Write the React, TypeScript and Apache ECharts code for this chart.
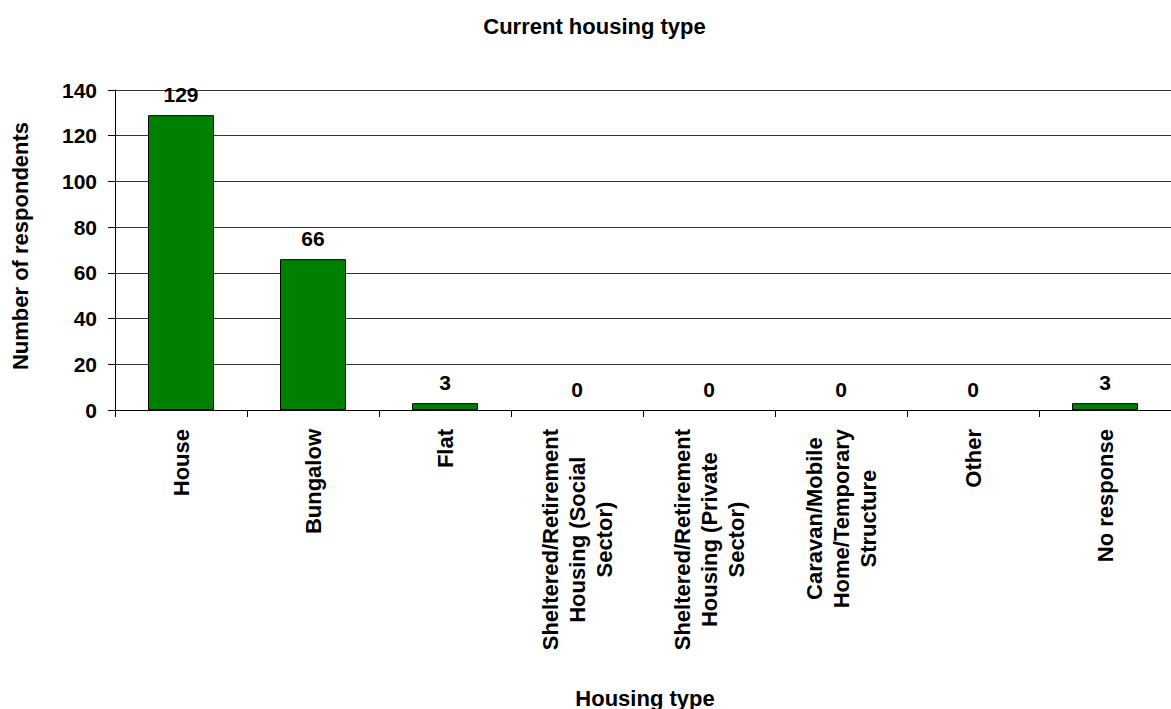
import React, { useEffect, useRef } from "react";
import * as echarts from "echarts";

const categories: string[] = [
  "House",
  "Bungalow",
  "Flat",
  "Sheltered/Retirement\nHousing (Social\nSector)",
  "Sheltered/Retirement\nHousing (Private\nSector)",
  "Caravan/Mobile\nHome/Temporary\nStructure",
  "Other",
  "No response",
];
const values: number[] = [129, 66, 3, 0, 0, 0, 0, 3];
const yMin = 0;
const yMax = 140;
const yStep = 20;

const titleText = "Current housing type";
const xAxisTitle = "Housing type";
const yAxisTitle = "Number of respondents";

const FONT = '"Liberation Sans", Arial, Helvetica, sans-serif';

function measure(text: string, size: number): number {
  const c = document.createElement("canvas");
  const ctx = c.getContext("2d");
  if (!ctx) return text.length * size * 0.6;
  ctx.font = `bold ${size}px ${FONT}`;
  return ctx.measureText(text).width;
}

export default function App() {
  const ref = useRef<HTMLDivElement>(null);
  useEffect(() => {
    if (!ref.current) return;
    const chart = echarts.init(ref.current, undefined, { renderer: "svg" });
    const catSize = 22;
    const rich: Record<string, any> = {};
    categories.forEach((c, i) => {
      const w = Math.max(...c.split("\n").map((l) => measure(l, catSize))) + 2;
      rich["c" + i] = {
        width: w,
        align: "center",
        fontSize: catSize,
        fontWeight: "bold",
        fontFamily: FONT,
        color: "#000",
        lineHeight: 27,
      };
    });
    chart.setOption({
      animation: false,
      backgroundColor: "#fff",
      grid: { left: 115, right: -11.5, top: 90, bottom: 299, containLabel: false },
      graphic: [
        {
          type: "text",
          x: 594.5,
          y: 26,
          style: {
            text: titleText,
            font: `bold 22px ${FONT}`,
            fill: "#000",
            textAlign: "center",
            textVerticalAlign: "middle",
          },
        },
        {
          type: "text",
          x: 645,
          y: 698,
          style: {
            text: xAxisTitle,
            font: `bold 22px ${FONT}`,
            fill: "#000",
            textAlign: "center",
            textVerticalAlign: "middle",
          },
        },
        {
          type: "text",
          x: 20,
          y: 246,
          rotation: Math.PI / 2,
          style: {
            text: yAxisTitle,
            font: `bold 22px ${FONT}`,
            fill: "#000",
            textAlign: "center",
            textVerticalAlign: "middle",
          },
        },
      ],
      xAxis: {
        type: "category",
        data: categories,
        boundaryGap: true,
        axisLine: { show: true, lineStyle: { color: "#000", width: 1 } },
        axisTick: { show: true, length: 7, inside: false, lineStyle: { color: "#000" }, alignWithLabel: false },
        axisLabel: {
          interval: 0,
          rotate: 90,
          margin: 18,
          formatter: (v: string) => {
            const idx = categories.indexOf(v);
            return v
              .split("\n")
              .map((l) => `{c${idx}|${l}}`)
              .join("\n");
          },
          rich,
        },
        splitLine: { show: false },
      },
      yAxis: {
        type: "value",
        min: yMin,
        max: yMax,
        interval: yStep,
        axisLine: { show: true, lineStyle: { color: "#000", width: 1 } },
        axisTick: { show: true, length: 7, lineStyle: { color: "#000" } },
        axisLabel: {
          margin: 18,
          fontSize: 21,
          fontWeight: "bold",
          fontFamily: FONT,
          color: "#000",
        },
        splitLine: { show: true, lineStyle: { color: "#333", width: 1 } },
      },
      series: [
        {
          type: "bar",
          data: values.map((v) => ({
            value: v,
            itemStyle: v === 0 ? { borderWidth: 0, opacity: 0 } : undefined,
          })),
          barWidth: "50%",
          itemStyle: { color: "#008000", borderColor: "#000", borderWidth: 1 },
          label: {
            show: true,
            position: "top",
            distance: 10,
            fontSize: 21,
            fontWeight: "bold",
            fontFamily: FONT,
            color: "#000",
            opacity: 1,
          },
        },
      ],
    });
    return () => chart.dispose();
  }, []);
  return (
    <div
      ref={ref}
      style={{ position: "fixed", left: 0, top: 0, width: 1171, height: 709 }}
    />
  );
}
